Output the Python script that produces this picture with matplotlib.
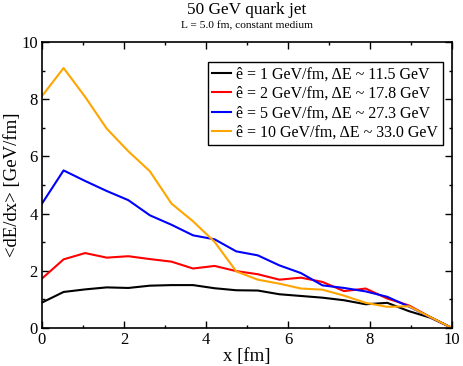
import numpy as np
import matplotlib
matplotlib.use("Agg")
import matplotlib.pyplot as plt
from matplotlib.ticker import MultipleLocator

plt.rcParams['font.family'] = ['Liberation Serif', 'DejaVu Serif']

# 20 sample points along the path, 0 .. 10 fm
x = np.linspace(0, 10, 20)

y_e1 = [0.89, 1.26, 1.35, 1.42, 1.40, 1.48, 1.50, 1.50, 1.39, 1.32,
        1.31, 1.18, 1.12, 1.06, 0.97, 0.83, 0.88, 0.59, 0.36, 0.0]
y_e2 = [1.73, 2.40, 2.62, 2.46, 2.51, 2.41, 2.32, 2.08, 2.17, 1.99,
        1.88, 1.69, 1.76, 1.61, 1.29, 1.38, 1.03, 0.79, 0.38, 0.0]
y_e5 = [4.35, 5.51, 5.14, 4.79, 4.47, 3.94, 3.61, 3.24, 3.10, 2.68,
        2.54, 2.19, 1.92, 1.49, 1.40, 1.28, 1.09, 0.75, 0.38, 0.0]
y_e10 = [8.11, 9.09, 8.08, 6.97, 6.18, 5.48, 4.35, 3.73, 3.01, 1.98,
         1.69, 1.55, 1.38, 1.34, 1.13, 0.88, 0.74, 0.76, 0.38, 0.0]

labels = ['ê = 1 GeV/fm, ΔE ~ 11.5 GeV',
          'ê = 2 GeV/fm, ΔE ~ 17.8 GeV',
          'ê = 5 GeV/fm, ΔE ~ 27.3 GeV',
          'ê = 10 GeV/fm, ΔE ~ 33.0 GeV']
colors = ['black', 'red', 'blue', '#FFA500']

fig = plt.figure(figsize=(4.63, 3.66), dpi=100)
ax = fig.add_axes([42/463, 1-328/366, 410/463, 286/366])

for y, lab, c in zip([y_e1, y_e2, y_e5, y_e10], labels, colors):
    ax.plot(x, y, color=c, lw=1.5, label=lab)

ax.set_xlim(0, 10)
ax.set_ylim(0, 10)
ax.xaxis.set_major_locator(MultipleLocator(2))
ax.xaxis.set_minor_locator(MultipleLocator(1))
ax.yaxis.set_major_locator(MultipleLocator(2))
ax.yaxis.set_minor_locator(MultipleLocator(1))
ax.tick_params(which='both', direction='in', top=True, right=True,
               labelsize=12, pad=3, width=1)
ax.tick_params(which='major', length=5)
ax.tick_params(which='minor', length=2.5)
for s in ax.spines.values():
    s.set_linewidth(1.2)

ax.set_xlabel('x [fm]', fontsize=13.5, labelpad=0)
ax.set_ylabel('<dE/dx> [GeV/fm]', fontsize=13.5)
ax.yaxis.set_label_coords(-0.052, 0.5)

fig.text(247/463, 1-10.5/366, '50 GeV quark jet', ha='center', va='center', fontsize=12.4)
fig.text(247/463, 1-26/366, 'L = 5.0 fm, constant medium', ha='center', va='center', fontsize=8.2)

leg = ax.legend(loc='upper right', bbox_to_anchor=(0.978, 0.930), borderaxespad=0,
                fontsize=11.5, fancybox=False, framealpha=1, handlelength=1.15,
                labelspacing=0.2, borderpad=0.3, handletextpad=0.35)
leg.get_frame().set_edgecolor('black')
leg.get_frame().set_linewidth(1)

plt.savefig('out.png', dpi=100)
